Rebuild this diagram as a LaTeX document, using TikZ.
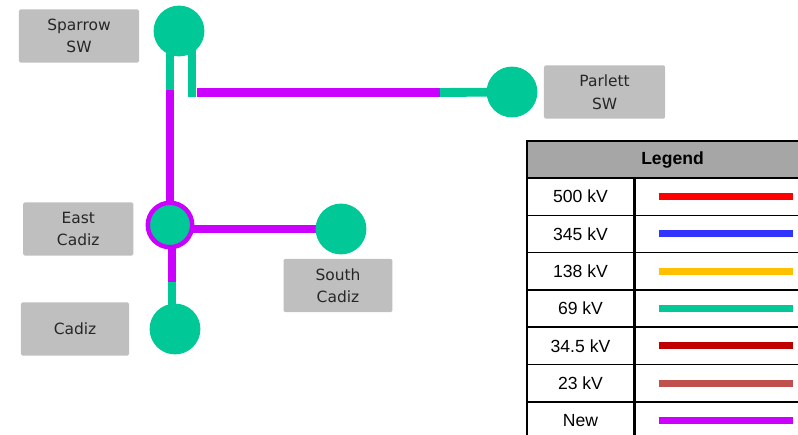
\documentclass[tikz,border=0pt]{standalone}
\usepackage{fontspec}
\setmainfont{Liberation Sans}
\newfontfamily\boxfont{DejaVu Sans}
\usetikzlibrary{positioning, calc, backgrounds}
\definecolor{kvfive}{RGB}{255,0,0}
\definecolor{kvthree}{RGB}{51,51,255}
\definecolor{kvone}{RGB}{255,192,0}
\definecolor{kvsix}{RGB}{0,200,150}
\definecolor{kvthirty}{RGB}{192,0,0}
\definecolor{kvtwenty}{RGB}{192,80,77}
\definecolor{newline}{RGB}{204,0,255}
\definecolor{tag}{RGB}{191,191,191}
\definecolor{head}{RGB}{166,166,166}

\begin{document}
\begin{tikzpicture}[x=0.025cm, y=-0.025cm,
      bus/.style={circle, fill=kvsix, minimum size=1.27cm, inner sep=0pt},
      tagbox/.style={rectangle, rounded corners=1pt, fill=tag, minimum height=1.33cm,
                     inner sep=0pt, align=center, text=black!85,
                     font=\boxfont\fontsize{11}{16}\selectfont},
      wire/.style={line width=6.3pt},
      cellL/.style={draw, line width=1pt, minimum width=2.675cm, minimum height=0.9325cm,
                    inner sep=0pt, font=\fontsize{12.5}{14}\selectfont},
      cellR/.style={draw, line width=1pt, minimum width=4.6cm, minimum height=0.9325cm,
                    inner sep=0pt},
      sample/.style={line width=5pt}
    ]
    \useasboundingbox (0,0) rectangle (798,435);
    \clip (0,0) rectangle (798,435);

    % substations
    \node[bus] (sparrow) at (179,31) {};
    \node[bus] (parlett) at (512,92) {};
    \node[bus] (scadiz) at (341,229) {};
    \node[bus] (cadiz) at (175,329) {};
    \node[bus, draw=newline, line width=3.2pt, minimum size=1.11cm] (ecadiz) at (170,225) {};

    % joints
    \coordinate (sl) at (170,90);
    \coordinate (sr) at (192,97);
    \coordinate (tr) at (196.5,92.5);
    \coordinate (pj) at (440,92.5);
    \coordinate (cj) at (172,282);

    % lines, behind the circles
    \begin{pgfonlayer}{background}
      \draw[wire, kvsix] (sparrow.center -| sl) -- (sl);
      \draw[wire, newline] (sl) -- (ecadiz.center -| sl);
      \draw[wire, kvsix] (sparrow.center -| sr) -- (sr);
      \draw[wire, newline] (tr) -- (pj);
      \draw[wire, kvsix] (pj) -- (parlett.center);
      \draw[wire, newline] (ecadiz.center |- scadiz.center) -- (scadiz.center);
      \draw[wire, newline] (ecadiz.center -| cj) -- (cj);
      \draw[wire, kvsix] (cj) -- (cj |- cadiz.center);
    \end{pgfonlayer}

    % name tags
    \node[tagbox, minimum width=3cm, left=0.35cm of sparrow, yshift=-0.125cm] (sparrowtag) {Sparrow\\SW};
    \node[tagbox, minimum width=3.03cm, right=0.15cm of parlett] (parletttag) {Parlett\\SW};
    \node[tagbox, minimum width=2.75cm, left=0.3cm of ecadiz, yshift=-0.1cm] (ecadiztag) {East\\Cadiz};
    \node[tagbox, minimum width=2.7cm, left=0.5cm of cadiz] (cadiztag) {Cadiz};
    \node[tagbox, minimum width=2.72cm, below=0.1cm of scadiz, xshift=-0.075cm] (scadiztag) {South\\Cadiz};

    % legend
    \node[draw, line width=1pt, fill=head, minimum width=7.275cm, minimum height=0.925cm,
          font=\bfseries\fontsize{12.5}{14}\selectfont] (hdr) at (672.5,159.5) {Legend};
    \foreach \v/\c [count=\i] in {500 kV/kvfive, 345 kV/kvthree, 138 kV/kvone, 69 kV/kvsix,
                                 34.5 kV/kvthirty, 23 kV/kvtwenty, New/newline} {
      \node[cellL] (l\i) at (580.5, {178+(\i-0.5)*37.3}) {\v};
      \node[cellR, right=0cm of l\i] (r\i) {};
      \draw[sample, \c] ($(r\i.west)+(24,0)$) -- ($(r\i.west)+(158,0)$);
    }
  \end{tikzpicture}
\end{document}
